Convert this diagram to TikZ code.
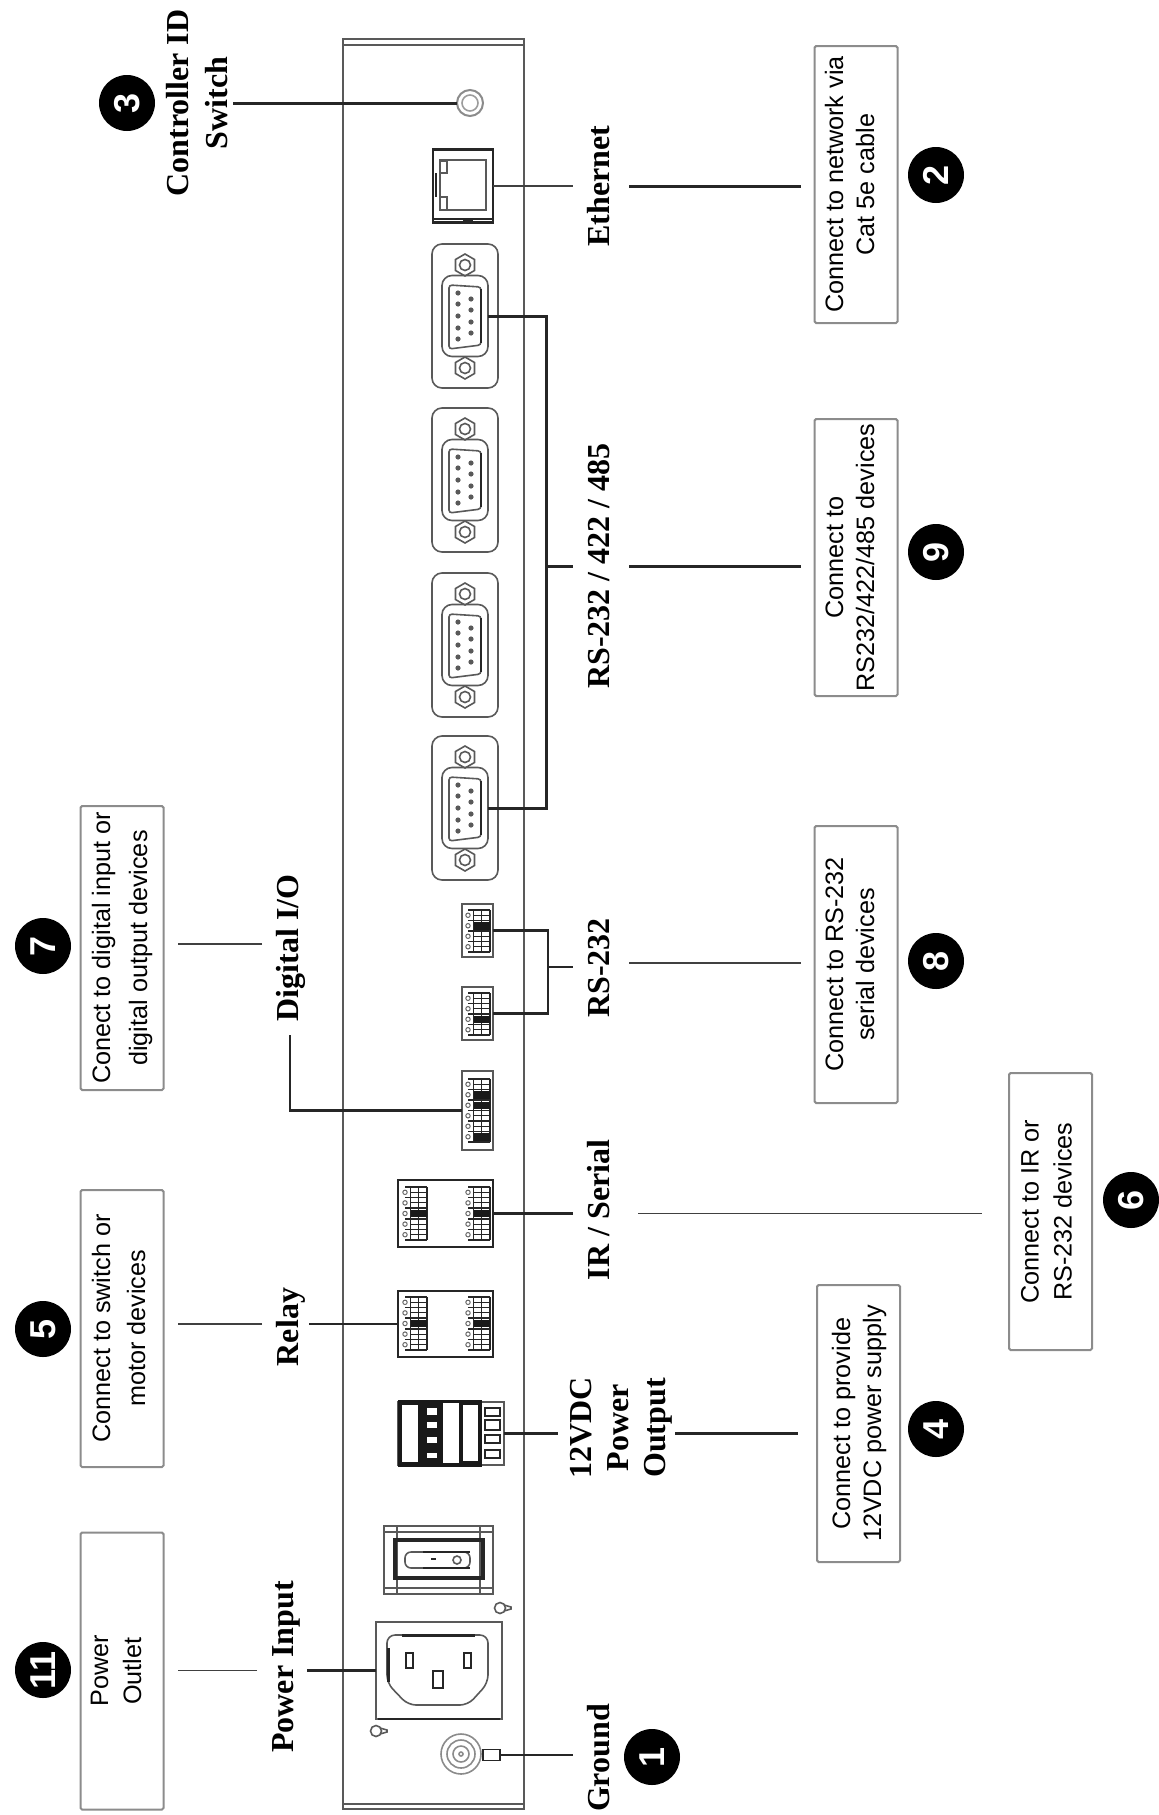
\documentclass[tikz,border=0pt]{standalone}
\usepackage{fontspec}
\setmainfont{Liberation Serif}
\setsansfont{Liberation Sans}
\usepackage{tikz}
\usetikzlibrary{shapes.geometric}
\definecolor{panelgray}{gray}{0.35}
\definecolor{boxgray}{gray}{0.55}
\definecolor{hwgray}{gray}{0.35}

\begin{document}
\begin{tikzpicture}[x=0.5pt,y=-0.5pt,
    panel/.style={draw=panelgray, line width=1pt},
    hw/.style={draw=hwgray, line width=0.8pt, inner sep=0pt, outer sep=0pt},
    hwdark/.style={draw=black!85, line width=1.2pt, inner sep=0pt, outer sep=0pt},
    wire/.style={draw=black!85, line width=1.5pt},
    midwire/.style={draw=black!85, line width=1.1pt},
    thinwire/.style={draw=black!75, line width=0.9pt},
    lab/.style={rotate=90, align=center, font=\bfseries\fontsize{16}{18.5}\selectfont,
      inner sep=0pt, outer sep=7pt, text height=11pt, text depth=3pt},
    infobox/.style={rotate=90, draw=boxgray, line width=1pt, rounded corners=0.8pt,
      align=center, font=\sffamily\fontsize{12.6}{15.5}\selectfont, inner sep=0pt,
      outer sep=7pt, minimum width=138.5pt, minimum height=41.5pt,
      text height=21pt, text depth=3pt},
    numdot/.style={circle, fill=black, text=white, rotate=90, inner sep=0pt,
      minimum size=28pt, font=\sffamily\bfseries\fontsize{18}{18}\selectfont},
    pin/.style={fill=gray!70!black},
  ]

  \useasboundingbox (0,0) rectangle (1159,1815);

  \newcommand\DBPORT[2]{%
    \node[hw, rounded corners=5pt, minimum width=33pt, minimum height=72pt] (#1) at (465,#2) {};
    \node[hw, rounded corners=5pt, minimum width=23pt, minimum height=40.5pt] (#1s) at (465,#2) {};
    \node[hw, regular polygon, regular polygon sides=6, shape border rotate=90, minimum size=11pt] (#1u) at (465,{#2-51}) {};
    \node[hw, regular polygon, regular polygon sides=6, shape border rotate=90, minimum size=11pt] (#1l) at (465,{#2+52}) {};
    \draw[hw] (465,{#2-51}) circle (5.5);
    \draw[hw] (465,{#2+52}) circle (5.5);
    \draw[hw, rounded corners=1.5pt] (449,{#2-31}) -- (481,{#2-29}) -- (481,{#2+29}) -- (449,{#2+33}) -- cycle;
    \draw[hwdark] (481,{#2-27}) -- (481,{#2+27});
    \fill[pin] (458,{#2-23}) circle (2.6);
    \fill[pin] (458,{#2-12}) circle (2.6);
    \fill[pin] (458,{#2}) circle (2.6);
    \fill[pin] (458,{#2+12}) circle (2.6);
    \fill[pin] (458,{#2+23}) circle (2.6);
    \fill[pin] (471,{#2-17}) circle (2.6);
    \fill[pin] (471,{#2-6}) circle (2.6);
    \fill[pin] (471,{#2+6}) circle (2.6);
    \fill[pin] (471,{#2+17}) circle (2.6);
  }
  % x1, x2, first y, pitch, count, dark ones
  \newcommand\PINROW[6]{%
    \foreach \i in {1,...,#5} {
      \draw[black!85, line width=0.8pt] (#1,{#3+(\i-1)*#4}) -- (#2,{#3+(\i-1)*#4});
      \draw[black!85, line width=0.5pt] ({#1+(#2-#1)*0.25},{#3+(\i-0.5)*#4}) -- (#2,{#3+(\i-0.5)*#4});
      \draw[black!85, line width=0.7pt] ({#1+(#2-#1)*0.25},{#3+(\i-1)*#4}) -- ({#1+(#2-#1)*0.25},{#3+\i*#4});
      \draw[black!85, line width=0.7pt] ({#1+(#2-#1)*0.62},{#3+(\i-1)*#4}) -- ({#1+(#2-#1)*0.62},{#3+\i*#4});
      \draw[black!85, line width=0.7pt] (#2,{#3+(\i-1)*#4}) -- (#2,{#3+\i*#4});
      \draw[black!60, line width=0.5pt] (#1,{#3+(\i-0.5)*#4}) circle (2.2);
    }
    \draw[black!85, line width=0.8pt] (#1,{#3+#5*#4}) -- (#2,{#3+#5*#4});
    \foreach \d in {#6}
      \fill[black!90] ({#1+(#2-#1)*0.25},{#3+(\d-1)*#4+1.5}) rectangle (#2,{#3+\d*#4-1.5});
  }
  \newcommand\KEYHOLE[2]{%
    \draw[hw] (#1,#2) circle (5.5);
    \draw[hw] ({#1+4},{#2-3}) -- ({#1+11},{#2-1}) -- ({#1+11},{#2+1}) -- ({#1+4},{#2+3});
  }

  %% panel
  \draw[panel] (343,39) rectangle (524,1809);
  \draw[panel] (343,45) -- (524,45);
  \draw[panel] (343,1804) -- (524,1804);

  %% controller id switch
  \node[hw, draw=hwgray!70, line width=1pt, circle, minimum size=13pt] (idsw) at (470,103) {};
  \draw[hw, draw=hwgray!60] (470,103) circle (8);

  %% ethernet jack
  \node[hwdark, minimum width=30pt, minimum height=36.5pt] (jack) at (463,186) {};
  \draw[hw] (440,160) rectangle (486,210);
  \draw[hw] (440,161) rectangle (447,173);
  \draw[hw] (440,197) rectangle (447,210);
  \draw[hwdark] (436,173) -- (436,197);
  \draw[hwdark] (433,219) -- (493,219);
  \draw[hwdark, line width=1.4pt] (463,220) -- (473,220);

  %% sub-d ports
  \DBPORT{dba}{316}
  \DBPORT{dbb}{480}
  \DBPORT{dbc}{645}
  \DBPORT{dbd}{808}

  %% rs-232 terminals
  \node[hw, minimum width=15.5pt, minimum height=26.5pt] (terma) at (477.5,930.5) {};
  \PINROW{468}{490}{910}{10.5}{4}{2}
  \node[hw, minimum width=15.5pt, minimum height=26.5pt] (termb) at (477.5,1013.5) {};
  \PINROW{468}{490}{993}{10.5}{4}{3}

  %% digital i/o terminal
  \node[hw, line width=1pt, minimum width=15.5pt, minimum height=39.5pt] (dio) at (477.5,1110.5) {};
  \PINROW{468}{490}{1079}{10.5}{6}{2,3,6}

  %% ir / serial and relay terminals
  \node[hwdark, minimum width=47.5pt, minimum height=33.5pt] (irser) at (445.5,1213.5) {};
  \PINROW{405}{427}{1187}{10.6}{5}{3}
  \PINROW{468}{490}{1187}{10.6}{5}{3}
  \node[hwdark, minimum width=47.5pt, minimum height=33pt] (relay) at (445.5,1324) {};
  \PINROW{405}{427}{1297}{10.6}{5}{3}
  \PINROW{468}{490}{1297}{10.6}{5}{3}

  %% 12vdc output
  \node[hw, minimum width=53pt, minimum height=31.5pt] (pwrout) at (451,1433.5) {};
  \fill[black!90] (398,1400) rectangle (482,1467);
  \fill[white] (402,1405) rectangle (418,1462);
  \fill[white] (443,1403) rectangle (459,1463);
  \fill[white] (463,1405) rectangle (478,1461);
  \fill[white] (427,1408) rectangle (437,1415);
  \fill[white] (427,1422) rectangle (437,1428);
  \fill[white] (427,1437) rectangle (437,1443);
  \fill[white] (427,1453) rectangle (437,1458);
  \draw[hwdark, line width=1pt] (485,1408) rectangle (500,1416);
  \draw[hwdark, line width=1pt] (485,1420) rectangle (500,1430);
  \draw[hwdark, line width=1pt] (485,1435) rectangle (500,1443);
  \draw[hwdark, line width=1pt] (485,1450) rectangle (500,1458);

  %% rocker switch
  \node[hw, minimum width=54.5pt, minimum height=34pt] (rocker) at (438.5,1560) {};
  \draw[hw] (397,1526) -- (397,1594);
  \draw[hw] (480,1526) -- (480,1594);
  \draw[hw] (384,1532) -- (493,1532);
  \draw[hw] (384,1588) -- (493,1588);
  \draw[hwdark, line width=1.6pt] (395,1540) rectangle (483,1578);
  \draw[hw, rounded corners=3pt] (405,1552) rectangle (470,1568);
  \draw[hwdark] (423,1552) -- (470,1552);
  \draw[hwdark] (423,1568) -- (470,1568);
  \draw[hw] (457,1560) circle (4);
  \draw[hwdark] (431,1559) -- (436,1559);

  %% power inlet
  \node[hw, line width=1pt, minimum width=63pt, minimum height=48.5pt] (inlet) at (439,1670.5) {};
  \draw[hw, rounded corners=4pt] (387,1635) -- (488,1635) -- (488,1683) -- (468,1705) -- (408,1705) -- (387,1683) -- cycle;
  \draw[hwdark, line width=1.5pt] (402,1635) -- (475,1635);
  \draw[hwdark, line width=1.5pt] (388,1648) -- (388,1682);
  \draw[hwdark] (406,1653) rectangle (413,1668);
  \draw[hwdark] (464,1653) rectangle (471,1668);
  \draw[hwdark] (433,1671) rectangle (443,1688);
  \draw[hwdark, line width=1.4pt] (378,1719) -- (500,1719);
  \KEYHOLE{376}{1731}
  \KEYHOLE{500}{1608}

  %% ground stud
  \draw[hw, draw=hwgray!70] (461,1754) circle (20);
  \draw[hw, draw=hwgray!70] (461,1754) circle (14);
  \draw[hw, draw=hwgray!70] (461,1754) circle (8);
  \draw[hw, draw=hwgray!70] (461,1754) circle (2);
  \node[hwdark, line width=0.8pt, minimum width=8.5pt, minimum height=5.5pt] (gnd) at (491.5,1755) {};

  %% labels
  \node[lab, outer sep=0pt, text height=30.5pt] (lCtrl) at (199.5,103) {Controller ID\\[1pt]Switch};
  \node[lab] (lEther) at (601,186) {Ethernet};
  \node[lab] (lRSb) at (601,566) {RS-232 / 422 / 485};
  \node[lab] (lRSa) at (601,968) {RS-232};
  \node[lab] (lDig) at (290,948) {Digital I/O};
  \node[lab] (lIR) at (601,1210) {IR / Serial};
  \node[lab] (lRelay) at (290,1327) {Relay};
  \node[lab, outer sep=5.5pt, text height=48pt] (lOut) at (620,1428) {12VDC\\Power\\Output};
  \node[lab] (lPower) at (285,1667) {Power Input};
  \node[lab] (lGround) at (601,1758) {Ground};

  %% boxes
  \node[infobox] (boxTwo) at (856,184.5) {Connect to network via\\Cat 5e cable};
  \node[infobox] (boxNine) at (856,557.5) {Connect to\\RS232/422/485 devices};
  \node[infobox] (boxEight) at (856,964.5) {Connect to RS-232\\serial devices};
  \node[infobox, text height=24pt] (boxSix) at (1050.5,1211.5) {Connect to IR or\\[1pt]RS-232 devices};
  \node[infobox, text height=25.5pt] (boxFour) at (858.5,1423.5) {Connect to provide\\12VDC power supply};
  \node[infobox, text height=22pt] (boxEleven) at (122,1671) {Power\\[1pt]Outlet};
  \node[infobox, text height=26pt] (boxFive) at (122,1328.5) {Connect to switch or\\[2pt]motor devices};
  \node[infobox, minimum width=142pt, text height=28pt] (boxSeven) at (122,948) {Conect to digital input or\\[3pt]digital output devices};

  %% numbers
  \node[numdot] (nOne) at (652,1757) {1};
  \node[numdot] (nTwo) at (936,175) {2};
  \node[numdot] (nThree) at (127,103) {3};
  \node[numdot] (nFour) at (936,1429) {4};
  \node[numdot] (nFive) at (43,1329) {5};
  \node[numdot] (nSix) at (1131,1200) {6};
  \node[numdot] (nSeven) at (43,946) {7};
  \node[numdot] (nEight) at (936,961) {8};
  \node[numdot] (nNine) at (936,552) {9};
  \node[numdot] (nEleven) at (43,1670) {11};

  %% connectors
  \draw[wire] (lCtrl.south |- idsw) -- (idsw); %% 3 - switch
  \draw[thinwire] (jack.east) -- (jack.east -| lEther.north);
  \draw[wire] (lEther.south |- jack.east) -- (jack.east -| boxTwo.north);
  \coordinate (busjoin) at (546,566);
  \draw[wire] (dbas.east) -| (busjoin) |- (dbds.east);
  \draw[wire] (busjoin) -- (busjoin -| lRSb.north);
  \draw[wire] (busjoin -| lRSb.south) -- (busjoin -| boxNine.north);
  \coordinate (rsjoin) at (548,967);
  \draw[midwire] (terma.east) -| (rsjoin) |- (termb.east);
  \draw[midwire] (rsjoin) -- (rsjoin -| lRSa.north);
  \draw[thinwire] (lRSa.south |- 0,963) -- (boxEight.north |- 0,963);
  \draw[midwire] (dio.west) -| (lDig.west);
  \draw[thinwire] (lDig.north |- 0,944) -- (boxSeven.south |- 0,944);
  \draw[midwire] (irser.east) -- (irser.east -| lIR.north);
  \draw[thinwire, shorten <=4.5pt, shorten >=6.5pt] (lIR.south |- irser.east) -- (boxSix.north |- irser.east);
  \draw[midwire, shorten >=-4.5pt] (relay.west) -- (relay.west -| lRelay.south);
  \draw[thinwire] (lRelay.north |- relay.west) -- (boxFive.south |- relay.west);
  \draw[midwire] (pwrout.east) -- (pwrout.east -| lOut.north);
  \draw[wire, shorten <=-3.5pt, shorten >=2.5pt] (lOut.south |- pwrout.east) -- (boxFour.north |- pwrout.east);
  \draw[midwire, shorten >=-3pt] (inlet.west) -- (inlet.west -| lPower.south);
  \draw[thinwire] (lPower.north |- inlet.west) -- (boxEleven.south |- inlet.west);
  \draw[midwire] (gnd.east) -- (gnd.east -| lGround.north);

\end{tikzpicture}
\end{document}
